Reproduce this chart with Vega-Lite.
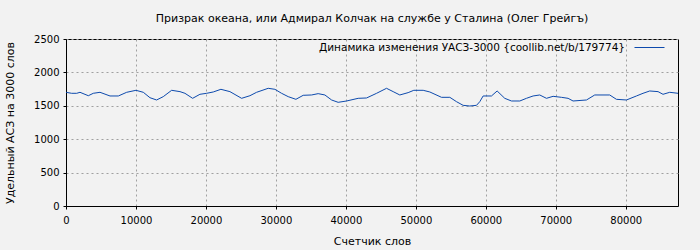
{
  "$schema": "https://vega.github.io/schema/vega-lite/v6.json",
  "autosize": "none",
  "width": 612,
  "height": 167,
  "padding": {"left": 66, "top": 39, "right": 22, "bottom": 44},
  "background": "#f2f2f2",
  "title": {"text": "Призрак океана, или Адмирал Колчак на службе у Сталина (Олег Грейгъ)", "font": "DejaVu Sans", "fontSize": 11, "fontWeight": "normal", "color": "#000000", "offset": 8, "anchor": "middle"},
  "config": {
    "view": {"stroke": "#000000", "strokeWidth": 1, "fill": "#f2f2f2"},
    "font": "DejaVu Sans"
  },
  "data": {"values": [
    {"x": 0, "y": 1702, "s": "Динамика изменения УАСЗ-3000 {coollib.net/b/179774}"},
    {"x": 810, "y": 1687, "s": "Динамика изменения УАСЗ-3000 {coollib.net/b/179774}"},
    {"x": 1530, "y": 1687, "s": "Динамика изменения УАСЗ-3000 {coollib.net/b/179774}"},
    {"x": 2000, "y": 1702, "s": "Динамика изменения УАСЗ-3000 {coollib.net/b/179774}"},
    {"x": 3190, "y": 1651, "s": "Динамика изменения УАСЗ-3000 {coollib.net/b/179774}"},
    {"x": 3900, "y": 1687, "s": "Динамика изменения УАСЗ-3000 {coollib.net/b/179774}"},
    {"x": 4860, "y": 1702, "s": "Динамика изменения УАСЗ-3000 {coollib.net/b/179774}"},
    {"x": 6290, "y": 1647, "s": "Динамика изменения УАСЗ-3000 {coollib.net/b/179774}"},
    {"x": 7480, "y": 1647, "s": "Динамика изменения УАСЗ-3000 {coollib.net/b/179774}"},
    {"x": 8670, "y": 1702, "s": "Динамика изменения УАСЗ-3000 {coollib.net/b/179774}"},
    {"x": 10000, "y": 1732, "s": "Динамика изменения УАСЗ-3000 {coollib.net/b/179774}"},
    {"x": 11050, "y": 1702, "s": "Динамика изменения УАСЗ-3000 {coollib.net/b/179774}"},
    {"x": 12000, "y": 1621, "s": "Динамика изменения УАСЗ-3000 {coollib.net/b/179774}"},
    {"x": 12950, "y": 1587, "s": "Динамика изменения УАСЗ-3000 {coollib.net/b/179774}"},
    {"x": 13900, "y": 1637, "s": "Динамика изменения УАСЗ-3000 {coollib.net/b/179774}"},
    {"x": 15100, "y": 1732, "s": "Динамика изменения УАСЗ-3000 {coollib.net/b/179774}"},
    {"x": 16290, "y": 1712, "s": "Динамика изменения УАСЗ-3000 {coollib.net/b/179774}"},
    {"x": 17000, "y": 1687, "s": "Динамика изменения УАСЗ-3000 {coollib.net/b/179774}"},
    {"x": 18100, "y": 1612, "s": "Динамика изменения УАСЗ-3000 {coollib.net/b/179774}"},
    {"x": 19140, "y": 1672, "s": "Динамика изменения УАСЗ-3000 {coollib.net/b/179774}"},
    {"x": 20100, "y": 1687, "s": "Динамика изменения УАСЗ-3000 {coollib.net/b/179774}"},
    {"x": 21050, "y": 1707, "s": "Динамика изменения УАСЗ-3000 {coollib.net/b/179774}"},
    {"x": 22140, "y": 1747, "s": "Динамика изменения УАСЗ-3000 {coollib.net/b/179774}"},
    {"x": 23430, "y": 1712, "s": "Динамика изменения УАСЗ-3000 {coollib.net/b/179774}"},
    {"x": 25100, "y": 1612, "s": "Динамика изменения УАСЗ-3000 {coollib.net/b/179774}"},
    {"x": 26290, "y": 1651, "s": "Динамика изменения УАСЗ-3000 {coollib.net/b/179774}"},
    {"x": 27240, "y": 1702, "s": "Динамика изменения УАСЗ-3000 {coollib.net/b/179774}"},
    {"x": 28900, "y": 1762, "s": "Динамика изменения УАСЗ-3000 {coollib.net/b/179774}"},
    {"x": 29860, "y": 1747, "s": "Динамика изменения УАСЗ-3000 {coollib.net/b/179774}"},
    {"x": 30810, "y": 1687, "s": "Динамика изменения УАСЗ-3000 {coollib.net/b/179774}"},
    {"x": 31760, "y": 1637, "s": "Динамика изменения УАСЗ-3000 {coollib.net/b/179774}"},
    {"x": 32860, "y": 1597, "s": "Динамика изменения УАСЗ-3000 {coollib.net/b/179774}"},
    {"x": 33900, "y": 1657, "s": "Динамика изменения УАСЗ-3000 {coollib.net/b/179774}"},
    {"x": 35100, "y": 1662, "s": "Динамика изменения УАСЗ-3000 {coollib.net/b/179774}"},
    {"x": 36040, "y": 1682, "s": "Динамика изменения УАСЗ-3000 {coollib.net/b/179774}"},
    {"x": 37000, "y": 1662, "s": "Динамика изменения УАСЗ-3000 {coollib.net/b/179774}"},
    {"x": 37960, "y": 1587, "s": "Динамика изменения УАСЗ-3000 {coollib.net/b/179774}"},
    {"x": 38900, "y": 1552, "s": "Динамика изменения УАСЗ-3000 {coollib.net/b/179774}"},
    {"x": 40100, "y": 1572, "s": "Динамика изменения УАСЗ-3000 {coollib.net/b/179774}"},
    {"x": 41760, "y": 1612, "s": "Динамика изменения УАСЗ-3000 {coollib.net/b/179774}"},
    {"x": 42960, "y": 1617, "s": "Динамика изменения УАСЗ-3000 {coollib.net/b/179774}"},
    {"x": 44390, "y": 1687, "s": "Динамика изменения УАСЗ-3000 {coollib.net/b/179774}"},
    {"x": 45810, "y": 1762, "s": "Динамика изменения УАСЗ-3000 {coollib.net/b/179774}"},
    {"x": 46760, "y": 1712, "s": "Динамика изменения УАСЗ-3000 {coollib.net/b/179774}"},
    {"x": 47710, "y": 1662, "s": "Динамика изменения УАСЗ-3000 {coollib.net/b/179774}"},
    {"x": 48900, "y": 1697, "s": "Динамика изменения УАСЗ-3000 {coollib.net/b/179774}"},
    {"x": 49710, "y": 1732, "s": "Динамика изменения УАСЗ-3000 {coollib.net/b/179774}"},
    {"x": 51050, "y": 1732, "s": "Динамика изменения УАСЗ-3000 {coollib.net/b/179774}"},
    {"x": 52000, "y": 1707, "s": "Динамика изменения УАСЗ-3000 {coollib.net/b/179774}"},
    {"x": 53670, "y": 1627, "s": "Динамика изменения УАСЗ-3000 {coollib.net/b/179774}"},
    {"x": 54860, "y": 1627, "s": "Динамика изменения УАСЗ-3000 {coollib.net/b/179774}"},
    {"x": 55810, "y": 1562, "s": "Динамика изменения УАСЗ-3000 {coollib.net/b/179774}"},
    {"x": 56760, "y": 1507, "s": "Динамика изменения УАСЗ-3000 {coollib.net/b/179774}"},
    {"x": 57710, "y": 1497, "s": "Динамика изменения УАСЗ-3000 {coollib.net/b/179774}"},
    {"x": 58670, "y": 1507, "s": "Динамика изменения УАСЗ-3000 {coollib.net/b/179774}"},
    {"x": 59140, "y": 1562, "s": "Динамика изменения УАСЗ-3000 {coollib.net/b/179774}"},
    {"x": 59620, "y": 1647, "s": "Динамика изменения УАСЗ-3000 {coollib.net/b/179774}"},
    {"x": 60810, "y": 1647, "s": "Динамика изменения УАСЗ-3000 {coollib.net/b/179774}"},
    {"x": 61620, "y": 1722, "s": "Динамика изменения УАСЗ-3000 {coollib.net/b/179774}"},
    {"x": 62710, "y": 1612, "s": "Динамика изменения УАСЗ-3000 {coollib.net/b/179774}"},
    {"x": 63670, "y": 1572, "s": "Динамика изменения УАСЗ-3000 {coollib.net/b/179774}"},
    {"x": 64860, "y": 1572, "s": "Динамика изменения УАСЗ-3000 {coollib.net/b/179774}"},
    {"x": 65810, "y": 1612, "s": "Динамика изменения УАСЗ-3000 {coollib.net/b/179774}"},
    {"x": 66760, "y": 1647, "s": "Динамика изменения УАСЗ-3000 {coollib.net/b/179774}"},
    {"x": 67710, "y": 1662, "s": "Динамика изменения УАСЗ-3000 {coollib.net/b/179774}"},
    {"x": 68670, "y": 1612, "s": "Динамика изменения УАСЗ-3000 {coollib.net/b/179774}"},
    {"x": 69620, "y": 1642, "s": "Динамика изменения УАСЗ-3000 {coollib.net/b/179774}"},
    {"x": 70810, "y": 1627, "s": "Динамика изменения УАСЗ-3000 {coollib.net/b/179774}"},
    {"x": 71760, "y": 1612, "s": "Динамика изменения УАСЗ-3000 {coollib.net/b/179774}"},
    {"x": 72470, "y": 1572, "s": "Динамика изменения УАСЗ-3000 {coollib.net/b/179774}"},
    {"x": 74390, "y": 1587, "s": "Динамика изменения УАСЗ-3000 {coollib.net/b/179774}"},
    {"x": 75570, "y": 1662, "s": "Динамика изменения УАСЗ-3000 {coollib.net/b/179774}"},
    {"x": 77710, "y": 1662, "s": "Динамика изменения УАСЗ-3000 {coollib.net/b/179774}"},
    {"x": 78670, "y": 1597, "s": "Динамика изменения УАСЗ-3000 {coollib.net/b/179774}"},
    {"x": 80100, "y": 1587, "s": "Динамика изменения УАСЗ-3000 {coollib.net/b/179774}"},
    {"x": 81530, "y": 1647, "s": "Динамика изменения УАСЗ-3000 {coollib.net/b/179774}"},
    {"x": 82470, "y": 1687, "s": "Динамика изменения УАСЗ-3000 {coollib.net/b/179774}"},
    {"x": 83430, "y": 1722, "s": "Динамика изменения УАСЗ-3000 {coollib.net/b/179774}"},
    {"x": 84620, "y": 1712, "s": "Динамика изменения УАСЗ-3000 {coollib.net/b/179774}"},
    {"x": 85330, "y": 1672, "s": "Динамика изменения УАСЗ-3000 {coollib.net/b/179774}"},
    {"x": 86290, "y": 1702, "s": "Динамика изменения УАСЗ-3000 {coollib.net/b/179774}"},
    {"x": 87470, "y": 1687, "s": "Динамика изменения УАСЗ-3000 {coollib.net/b/179774}"}
  ]},
  "mark": {"type": "line", "strokeWidth": 1, "interpolate": "linear"},
  "encoding": {
    "x": {
      "field": "x", "type": "quantitative",
      "scale": {"domain": [0, 87470], "nice": false, "zero": false},
      "axis": {
        "title": "Счетчик слов", "titleFont": "DejaVu Sans", "titleFontSize": 11, "titleFontWeight": "normal", "titleColor": "#000000", "titlePadding": 10,
        "values": [0, 10000, 20000, 30000, 40000, 50000, 60000, 70000, 80000],
        "format": "d", "labelFont": "DejaVu Sans", "labelFontSize": 10, "labelColor": "#000000", "labelPadding": 6,
        "domainColor": "#000000", "tickColor": "#000000", "tickSize": 3,
        "grid": true, "gridColor": "#a0a0a0", "gridDash": [2, 3], "gridWidth": 1,
        "labelFlush": false
      }
    },
    "y": {
      "field": "y", "type": "quantitative",
      "scale": {"domain": [0, 2500], "nice": false},
      "axis": {
        "title": "Удельный АСЗ на 3000 слов", "titleFont": "DejaVu Sans", "titleFontSize": 11, "titleFontWeight": "normal", "titleColor": "#000000", "titlePadding": 18,
        "values": [0, 500, 1000, 1500, 2000, 2500],
        "format": "d", "labelFont": "DejaVu Sans", "labelFontSize": 10, "labelColor": "#000000", "labelPadding": 4,
        "domainColor": "#000000", "tickColor": "#000000", "tickSize": 3,
        "grid": true, "gridColor": "#a0a0a0", "gridDash": [2, 3], "gridWidth": 1
      }
    },
    "color": {
      "field": "s", "type": "nominal",
      "scale": {"range": ["#0d4aad"]},
      "legend": {
        "title": null, "orient": "none", "legendX": 568, "legendY": -7, "padding": 0,
        "symbolType": "stroke", "symbolSize": 900, "symbolStrokeWidth": 1,
        "labelFont": "DejaVu Sans", "labelFontSize": 10.5, "labelColor": "#000000",
        "labelAlign": "right", "labelOffset": -40, "labelLimit": 500
      }
    }
  }
}
